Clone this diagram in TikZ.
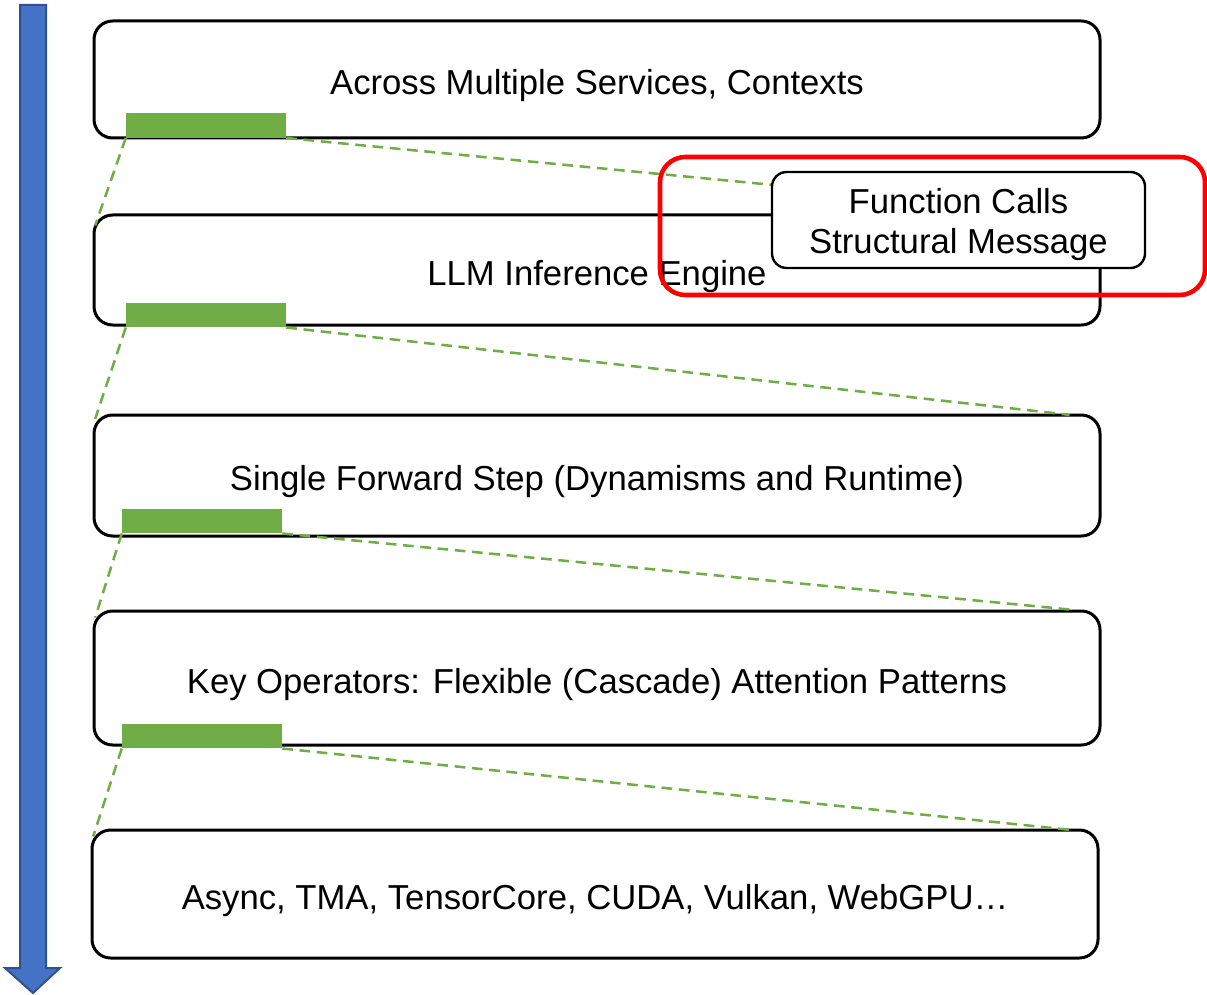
\documentclass[tikz,border=0pt]{standalone}
\usepackage{fontspec}
\setmainfont{Liberation Sans}
\definecolor{layergreen}{HTML}{70AD47}
\definecolor{flowblue}{HTML}{4472C4}
\definecolor{flowedge}{HTML}{2F528F}
\definecolor{callred}{HTML}{FF0000}
\tikzset{
  layerbox/.style={draw=black, line width=2.25pt, rounded corners=14pt, fill=white,
    inner sep=0pt, text height=23pt, text depth=0pt, font=\fontsize{26}{31}\selectfont},
  greenbar/.style={fill=layergreen, inner sep=0pt, minimum width={160*0.75pt}, minimum height={24.5*0.75pt}},
  zoomline/.style={draw=layergreen, line width=1.9pt, dash pattern=on 8pt off 5pt},
  callbox/.style={draw=black, line width=1.8pt, rounded corners=11pt, fill=white,
    inner sep=0pt, font=\fontsize{26}{30}\selectfont},
}
\begin{document}
\begin{tikzpicture}[x=0.75pt, y=-0.75pt]
  \useasboundingbox (0,0) rectangle (1207,995);

  % downward flow arrow
  \draw[fill=flowblue, draw=flowedge, line width=1.5pt, line join=miter]
    (20,5) -- (46,5) -- (46,968) -- (60,968) -- (33,993) -- (5,968) -- (20,968) -- cycle;

  % abstraction layers
  \node[layerbox, minimum width={1006*0.75pt}, minimum height={117*0.75pt}] (box1) at (597,79.5)
    {Across Multiple Services, Contexts};
  \node[layerbox, minimum width={1006*0.75pt}, minimum height={110*0.75pt}] (box2) at (597,270)
    {LLM Inference Engine};
  \node[layerbox, minimum width={1006*0.75pt}, minimum height={121*0.75pt}] (box3) at (597,475.5)
    {Single Forward Step (Dynamisms and Runtime)};
  \node[layerbox, minimum width={1006*0.75pt}, minimum height={134*0.75pt}] (box4) at (597,678)
    {Key Operators: Flexible (Cascade) Attention Patterns};
  \node[layerbox, minimum width={1006*0.75pt}, minimum height={128*0.75pt}] (box5) at (595,894)
    {Async, TMA, TensorCore, CUDA, Vulkan, WebGPU…};

  % green markers on each layer
  \node[greenbar] (bar1) at (206,125.5) {};
  \node[greenbar] (bar2) at (206,315) {};
  \node[greenbar] (bar3) at (202,521) {};
  \node[greenbar] (bar4) at (202,736) {};

  % zoom-in guides to the next layer
  \draw[zoomline] (bar1.south west) -- ([xshift=2pt, yshift=-9pt]box2.north west);
  \draw[zoomline] (bar1.south east) -- ([xshift=-24pt]box2.north east);
  \draw[zoomline] (bar2.south west) -- ([xshift=2pt, yshift=-4pt]box3.north west);
  \draw[zoomline] (bar2.south east) -- ([xshift=-24pt, yshift=-1pt]box3.north east);
  \draw[zoomline] (bar3.south west) -- ([xshift=2pt, yshift=-6pt]box4.north west);
  \draw[zoomline] (bar3.south east) -- ([xshift=-24pt]box4.north east);
  \draw[zoomline] (bar4.south west) -- ([xshift=2pt, yshift=-6pt]box5.north west);
  \draw[zoomline] (bar4.south east) -- ([xshift=-22pt, yshift=-1pt]box5.north east);

  % function-call callout
  \node[callbox, minimum width={373*0.75pt}, minimum height={96*0.75pt}] (calls) at (958.5,220)
    {\raisebox{-10.5pt}[0pt][0pt]{\begin{tabular}{@{}c@{}}Function Calls\\Structural Message\end{tabular}}};
  \node[draw=callred, line width=3.4pt, rounded corners=19pt, inner sep=0pt,
    minimum width={545*0.75pt}, minimum height={138*0.75pt}] (focus) at (932.5,226) {};
\end{tikzpicture}
\end{document}
